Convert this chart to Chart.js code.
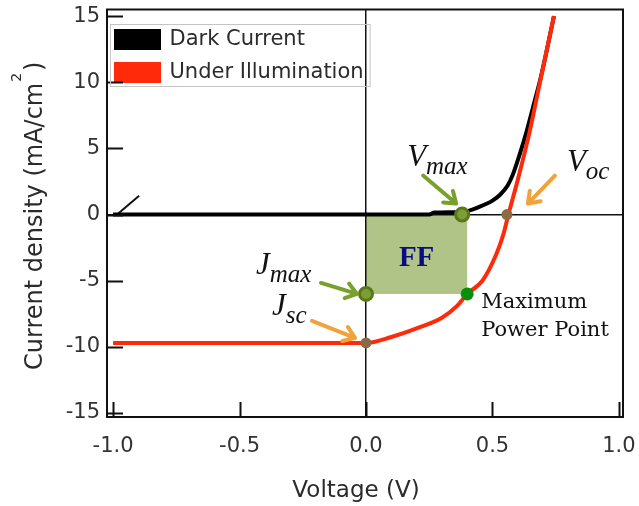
<!DOCTYPE html>
<html>
<head>
<meta charset="utf-8">
<script src="https://cdn.jsdelivr.net/npm/chart.js@4.4.1/dist/chart.umd.min.js"></script>
<style>
  html, body { margin: 0; padding: 0; background: #fff; }
</style>
</head>
<body>
<canvas id="ivChart" width="639" height="506"></canvas>
<script>
// Dark current trace
const darkV = [-1.0, 0.25, 0.27, 0.38, 0.45, 0.50, 0.53, 0.56, 0.58, 0.61, 0.635, 0.66, 0.685, 0.71, 0.743];
const darkJ = [0, 0, 0.15, 0.2, 0.6, 1.05, 1.5, 2.2, 3.0, 4.7, 6.3, 8.1, 9.9, 12.0, 15];
// little stray stroke at the left end of the dark trace
const tailV = [-0.897, -0.984];
const tailJ = [1.43, 0];

// Under illumination trace
const lightV = [-1.0, 0.0, 0.1, 0.2, 0.3, 0.36, 0.40, 0.46, 0.515, 0.543, 0.563, 0.605, 0.645, 0.69, 0.743];
const lightJ = [-9.7, -9.7, -9.25, -8.6, -7.8, -6.9, -6.0, -5.0, -3.0, -1.5, 0.0, 3.0, 6.1, 10.2, 15];

// Key points: Vmax, Jmax, maximum power point, Jsc, Voc
const keyNames = ['vMax', 'jMax', 'mpp', 'jsc', 'voc'];
const keyV = [0.38, 0, 0.40, 0, 0.557];
const keyJ = [0, -6.0, -6.0, -9.7, 0];

const xTicks = [-1.0, -0.5, 0.0, 0.5, 1.0];
const yTicks = [15, 10, 5, 0, -5, -10, -15];

const zip = (xs, ys) => xs.map((x, i) => ({ x: x, y: ys[i] }));

const GREEN = '#78a02c', ORANGE = '#f2a23a';
const SANS = '"DejaVu Sans", sans-serif';
const SERIF = '"Liberation Serif", serif';

function arrow(ctx, x1, y1, x2, y2, color) {
  const a = Math.atan2(y2 - y1, x2 - x1), h = 13, sp = 0.62;
  ctx.save();
  ctx.strokeStyle = color;
  ctx.lineWidth = 4;
  ctx.lineCap = 'round';
  ctx.lineJoin = 'round';
  ctx.beginPath();
  ctx.moveTo(x1, y1);
  ctx.lineTo(x2, y2);
  ctx.moveTo(x2 - h * Math.cos(a - sp), y2 - h * Math.sin(a - sp));
  ctx.lineTo(x2, y2);
  ctx.lineTo(x2 - h * Math.cos(a + sp), y2 - h * Math.sin(a + sp));
  ctx.stroke();
  ctx.restore();
}

// italic letter with italic subscript, e.g. V_max
function subLabel(ctx, main, sub, x, y) {
  ctx.save();
  ctx.fillStyle = '#111';
  ctx.textAlign = 'left';
  ctx.textBaseline = 'alphabetic';
  ctx.font = 'italic 31px ' + SERIF;
  ctx.fillText(main, x, y);
  const w = ctx.measureText(main).width;
  ctx.font = 'italic 25px ' + SERIF;
  ctx.fillText(sub, x + w, y + 8);
  ctx.restore();
}

const decor = {
  id: 'decor',
  afterLayout(chart) {
    // legend sits inside the plot, a little below its top edge
    chart.legend.top = chart.chartArea.top + 7.5;
    chart.legend.left = chart.chartArea.left - 3;
  },
  beforeDraw(chart) {
    const { ctx, scales: { x, y } } = chart;
    const i = keyNames.indexOf('mpp');
    const x0 = x.getPixelForValue(0), y0 = y.getPixelForValue(0);
    const x1 = x.getPixelForValue(keyV[i]), y1 = y.getPixelForValue(keyJ[i]);
    ctx.save();
    ctx.fillStyle = '#b0c487';
    ctx.fillRect(x0, y0, x1 - x0, y1 - y0);
    ctx.fillStyle = '#0b0b82';
    ctx.font = 'bold 29px ' + SERIF;
    ctx.textAlign = 'center';
    ctx.textBaseline = 'middle';
    ctx.fillText('FF', (x0 + x1) / 2, (y0 + y1) / 2 + 4);
    ctx.restore();
  },
  afterDraw(chart) {
    const { ctx, chartArea: a, scales: { x, y } } = chart;
    ctx.save();
    // frame
    ctx.strokeStyle = '#111';
    ctx.lineWidth = 2;
    ctx.strokeRect(a.left, a.top, a.right - a.left, a.bottom - a.top);
    // inward tick marks
    ctx.beginPath();
    yTicks.forEach(v => {
      const p = Math.round(y.getPixelForValue(v)) + 0.5;
      ctx.moveTo(a.left, p);
      ctx.lineTo(a.left + 16, p);
    });
    xTicks.forEach(v => {
      const p = Math.round(x.getPixelForValue(v)) + 0.5;
      ctx.moveTo(p, a.bottom);
      ctx.lineTo(p, a.bottom - 15);
    });
    ctx.stroke();

    // legend frame
    const hb = chart.legend.legendHitBoxes;
    if (hb && hb.length) {
      const l = Math.min(...hb.map(b => b.left)), t = Math.min(...hb.map(b => b.top));
      const r = Math.max(...hb.map(b => b.left + b.width)), bt = Math.max(...hb.map(b => b.top + b.height));
      ctx.strokeStyle = '#c4c4c4';
      ctx.lineWidth = 1;
      ctx.strokeRect(Math.round(l - 6) + 0.5, Math.round(t - 5) + 0.5, r - l + 12, bt - t + 8);
    }

    // key point annotations
    const pt = name => {
      const k = keyNames.indexOf(name);
      return [x.getPixelForValue(keyV[k]), y.getPixelForValue(keyJ[k])];
    };
    const [vx, vy] = pt('vMax');
    const [ox, oy] = pt('voc');
    const [jx, jy] = pt('jMax');
    const [sx, sy] = pt('jsc');
    const [mx, my] = pt('mpp');

    arrow(ctx, vx - 39, vy - 39, vx - 6, vy - 11, GREEN);
    arrow(ctx, ox + 48, oy - 39, ox + 21, oy - 11, ORANGE);
    arrow(ctx, jx - 45, jy - 11, jx - 9, jy, GREEN);
    arrow(ctx, sx - 54, sy - 22, sx - 11, sy - 5, ORANGE);

    subLabel(ctx, 'V', 'max', vx - 55, vy - 49);
    subLabel(ctx, 'V', 'oc', ox + 60, oy - 44);
    subLabel(ctx, 'J', 'max', jx - 110, jy - 20);
    subLabel(ctx, 'J', 'sc', sx - 94, sy - 28);

    ctx.fillStyle = '#111';
    ctx.font = '21px "DejaVu Serif", serif';
    ctx.textAlign = 'left';
    ctx.textBaseline = 'alphabetic';
    ctx.fillText('Maximum', mx + 14, my + 14);
    ctx.fillText('Power Point', mx + 14, my + 42);

    // axis titles
    ctx.fillStyle = '#2b2b2b';
    ctx.font = '23px ' + SANS;
    ctx.textAlign = 'center';
    ctx.fillText('Voltage (V)', 356, 497);

    ctx.translate(42, 370);
    ctx.rotate(-Math.PI / 2);
    ctx.textAlign = 'left';
    ctx.font = '24px ' + SANS;
    const main = 'Current density (mA/cm';
    ctx.fillText(main, 0, 0);
    let w = ctx.measureText(main).width;
    ctx.font = '14px ' + SANS;
    ctx.fillText('2', w + 1, -21);
    w += ctx.measureText('2').width + 3;
    ctx.font = '24px ' + SANS;
    ctx.fillText(')', w, 0);
    ctx.restore();
  }
};

const tickFont = { family: SANS, size: 21 };

new Chart(document.getElementById('ivChart'), {
  type: 'scatter',
  data: {
    datasets: [
      {
        label: 'Dark Current',
        data: zip(darkV, darkJ),
        showLine: true,
        borderColor: '#000',
        backgroundColor: '#000',
        borderWidth: 4,
        pointRadius: 0,
        cubicInterpolationMode: 'monotone',
        order: 3
      },
      {
        label: 'Under Illumination',
        data: zip(lightV, lightJ),
        showLine: true,
        borderColor: '#ff2a0a',
        backgroundColor: '#ff2a0a',
        borderWidth: 4,
        pointRadius: 0,
        cubicInterpolationMode: 'monotone',
        order: 2
      },
      {
        label: 'tail',
        data: zip(tailV, tailJ),
        showLine: true,
        borderColor: '#111',
        borderWidth: 2,
        pointRadius: 0,
        order: 4
      },
      {
        label: 'points',
        data: zip(keyV, keyJ),
        pointRadius: [6.5, 6.5, 6.5, 5.5, 5.5],
        pointBorderWidth: [3, 3, 0, 0, 0],
        pointBackgroundColor: ['#7d9e34', '#7d9e34', '#0b8f0b', '#8c6a44', '#8c6a44'],
        pointBorderColor: ['#58781b', '#58781b', '#0b8f0b', '#8c6a44', '#8c6a44'],
        order: 1
      }
    ]
  },
  options: {
    responsive: false,
    animation: false,
    layout: { padding: { top: 7, right: 16, left: 0, bottom: 0 } },
    plugins: {
      tooltip: { enabled: false },
      legend: {
        position: 'chartArea',
        align: 'start',
        labels: {
          boxWidth: 43,
          boxHeight: 17,
          padding: 12,
          color: '#2b2b2b',
          font: { family: SANS, size: 21 },
          filter: item => item.datasetIndex < 2,
          sort: (a, b) => a.datasetIndex - b.datasetIndex
        }
      }
    },
    scales: {
      x: {
        type: 'linear',
        min: -1.024,
        max: 1.016,
        bounds: 'data',
        afterBuildTicks: s => { s.ticks = xTicks.map(v => ({ value: v })); },
        afterFit: s => { s.height = 89; s.paddingLeft = 0; s.paddingRight = 0; },
        border: { display: false },
        grid: {
          drawTicks: false,
          lineWidth: 1.5,
          color: c => (c.tick && c.tick.value === 0 ? '#111' : 'rgba(0,0,0,0)')
        },
        ticks: {
          padding: 17,
          color: '#333',
          font: tickFont,
          maxRotation: 0,
          autoSkip: false,
          callback: v => Number(v).toFixed(1)
        }
      },
      y: {
        type: 'linear',
        min: -15.3,
        max: 15.5,
        bounds: 'data',
        afterBuildTicks: s => { s.ticks = yTicks.map(v => ({ value: v })); },
        afterFit: s => { s.width = 107; s.paddingTop = 0; s.paddingBottom = 0; },
        border: { display: false },
        grid: {
          drawTicks: false,
          lineWidth: 1.5,
          color: c => (c.tick && c.tick.value === 0 ? '#111' : 'rgba(0,0,0,0)')
        },
        ticks: {
          padding: 7,
          color: '#333',
          font: tickFont,
          autoSkip: false,
          callback: v => String(v)
        }
      }
    }
  },
  plugins: [decor]
});
</script>
</body>
</html>
